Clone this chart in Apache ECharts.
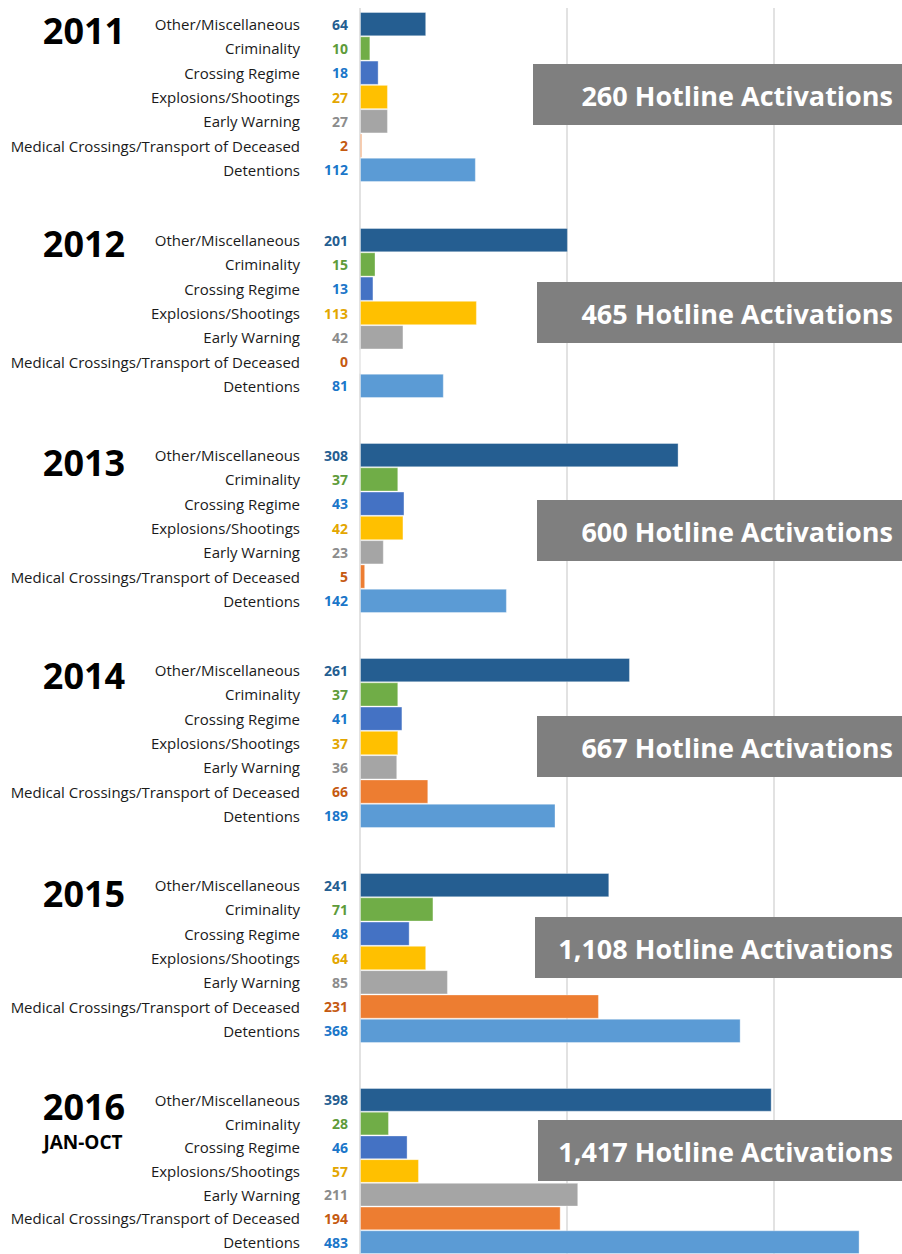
<!DOCTYPE html>
<html><head><meta charset="utf-8">
<script src="https://cdn.jsdelivr.net/npm/echarts@6/dist/echarts.min.js"></script>
<style>html,body{margin:0;padding:0;background:#fff}#c{width:902px;height:1254px}</style>
</head><body><div id="c"></div>
<script>
const categories = ['Other/Miscellaneous','Criminality','Crossing Regime','Explosions/Shootings','Early Warning','Medical Crossings/Transport of Deceased','Detentions'];
const years = ['2011','2012','2013','2014','2015','2016'];
const yearSubs = ['','','','','','JAN-OCT'];
const v2011 = [64,10,18,27,27,2,112];
const v2012 = [201,15,13,113,42,0,81];
const v2013 = [308,37,43,42,23,5,142];
const v2014 = [261,37,41,37,36,66,189];
const v2015 = [241,71,48,64,85,231,368];
const v2016 = [398,28,46,57,211,194,483];
const yearValues = [v2011,v2012,v2013,v2014,v2015,v2016];
const xTickInterval = 200;
const xMax = 524;

const barColors = ['#255E91','#70AD47','#4472C4','#FFC000','#A5A5A5','#ED7D31','#5B9BD5'];
const labelColors = ['#255E91','#5E9B3A','#1B76C9','#E3A600','#8C8C8C','#C55A11','#1B76C9'];

const panelTops = [12,228,443,658,873,1088];
const panelH = 170;
const boxTops = [64,282,500,716,917,1120];
const boxLefts = [533,537,537,537,535,538];
const yearCenters = [30,243,462,675,893,1106];
const FONT = '"Open Sans", "Noto Sans", sans-serif';

const chart = echarts.init(document.getElementById('c'), null, {renderer:'svg'});

const grid = [], xAxis = [], yAxis = [], series = [], graphic = [];
const rich = {n:{fontSize:15, color:'#1a1a1a', fontFamily:FONT}};
labelColors.forEach((c,i)=>{ rich['v'+i] = {width:48, align:'right', fontSize:14, fontWeight:'bold', color:c, fontFamily:FONT}; });

// background grid for full-height gridlines
grid.push({left:360, top:8, bottom:0, right:0});
xAxis.push({gridIndex:0, type:'value', min:0, max:xMax, interval:xTickInterval,
  axisLine:{show:false}, axisTick:{show:false}, axisLabel:{show:false},
  splitLine:{show:true, showMaxLine:false, lineStyle:{color:'#D9D9D9', width:1.5}}});
yAxis.push({gridIndex:0, type:'value', show:false, splitLine:{show:false}});

yearValues.forEach((vals, p)=>{
  const gi = p+1;
  grid.push({left:360, top:panelTops[p], height:panelH, right:0});
  xAxis.push({gridIndex:gi, type:'value', min:0, max:xMax, interval:xTickInterval, show:false, splitLine:{show:false}});
  yAxis.push({gridIndex:gi, type:'category', data:categories, inverse:true,
    axisLine:{show:false}, axisTick:{show:false},
    axisLabel:{margin:12, fontFamily:FONT,
      formatter:(val, idx)=>'{n|'+val+'}{v'+idx+'|'+vals[idx]+'}', rich}});
  series.push({type:'bar', xAxisIndex:gi, yAxisIndex:gi, barCategoryGap:'0%',
    data: vals.map((v,i)=>({value:v, itemStyle:{color:barColors[i], borderColor:'rgba(255,255,255,0.35)', borderWidth:1}})),
    silent:true});
  const total = vals.reduce((a,b)=>a+b,0);
  graphic.push({type:'rect', z:100, shape:{x:boxLefts[p], y:boxTops[p], width:902-boxLefts[p], height:61}, style:{fill:'#7F7F7F'}});
  graphic.push({type:'text', z:101, x:893, y:boxTops[p]+31, style:{text: total.toLocaleString('en-US')+' Hotline Activations',
    fill:'#fff', fontSize:27, fontWeight:'bold', fontFamily:FONT, align:'right', verticalAlign:'middle'}});
  graphic.push({type:'text', z:101, x:84, y:yearCenters[p], style:{text:years[p], fill:'#000', fontSize:36, fontWeight:'bold', fontFamily:FONT, align:'center', verticalAlign:'middle'}});
  if (yearSubs[p]) graphic.push({type:'text', z:101, x:83, y:yearCenters[p]+36, style:{text:yearSubs[p], fill:'#000', fontSize:19, fontWeight:'bold', fontFamily:FONT, align:'center', verticalAlign:'middle'}});
});

chart.setOption({animation:false, backgroundColor:'#fff', grid, xAxis, yAxis, series, graphic});
</script></body></html>
